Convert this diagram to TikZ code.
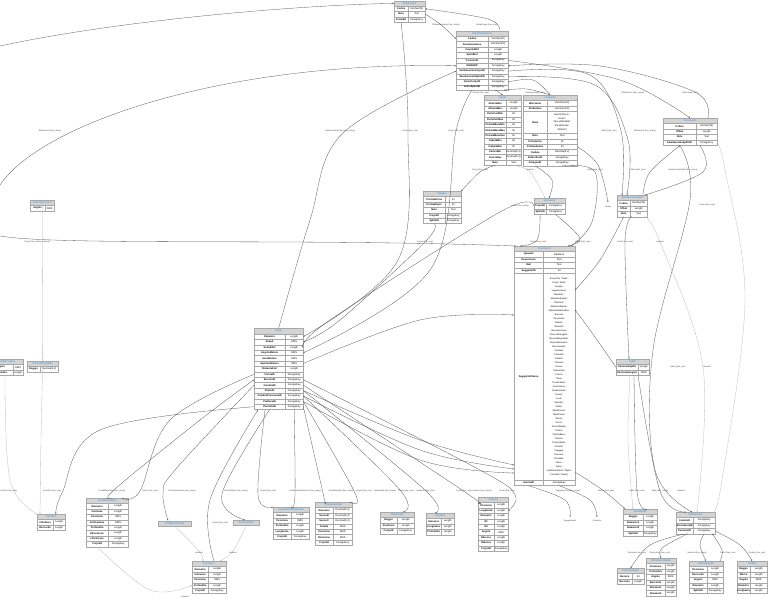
\documentclass[tikz,border=0pt]{standalone}
\usepackage{fontspec}
\setmainfont{Liberation Sans}
\usetikzlibrary{arrows.meta,calc}
\definecolor{hdrfill}{HTML}{D4D4D4}
\definecolor{hdrtext}{HTML}{2F8FDA}
\definecolor{cellborder}{HTML}{A8A8A8}
\definecolor{edgecol}{HTML}{555555}
\definecolor{extcol}{HTML}{BBBBBB}
\newcommand\rh{5.4}
\tikzset{
  x=1pt,y=-1pt,
  hdr/.style={draw=cellborder,fill=hdrfill,line width=0.3pt,inner sep=0pt,minimum height=5.4pt,
     font=\fontsize{2.6}{3}\selectfont,text=hdrtext,anchor=north west},
  cellL/.style={draw=cellborder,fill=white,line width=0.3pt,inner sep=0pt,
     font=\fontsize{2.5}{3}\selectfont\bfseries,anchor=north west},
  cellR/.style={draw=cellborder,fill=white,line width=0.3pt,inner sep=0pt,
     font=\fontsize{2.5}{3}\selectfont,anchor=north west},
  rel/.style={draw=edgecol,line width=0.3pt,-{Stealth[length=1.6pt,width=1.4pt]}},
  ext/.style={draw=extcol,line width=0.3pt,-{Stealth[length=1.6pt,width=1.4pt]}},
  lbl/.style={font=\fontsize{2.1}{2.5}\selectfont,text=black!75,inner sep=0.3pt},
  enumtxt/.style={align=center,inner sep=0pt},
}
\newcommand\dbhead[5]{%
  \pgfmathsetmacro\dbw{#3-#2}%
  \node[hdr,minimum width=\dbw pt] (#1) at (#2,#4) {#5};}
\newcommand\dbrow[8]{%
  \pgfmathsetmacro\dbwl{#3-#2}\pgfmathsetmacro\dbwr{#4-#3}%
  \node[cellL,minimum width=\dbwl pt,minimum height=#6pt] (#1) at (#2,#5) {#7};
  \node[cellR,minimum width=\dbwr pt,minimum height=#6pt] (#1r) at (#3,#5) {#8};}
\newcommand\dbt[7]{%
  \dbhead{#1}{#2}{#4}{#5}{#6}%
  \foreach [count=\i] \a/\b in {#7} {%
    \pgfmathsetmacro\yy{#5+\i*\rh}%
    \dbrow{#1-\i}{#2}{#3}{#4}{\yy}{\rh}{\a}{\b}}}
\newcommand\E[2][rel]{\draw[#1] plot[smooth,tension=0.6] coordinates {#2};}
\newcommand\LB[2]{\node[lbl] at (#1) {#2};}
\begin{document}
\begin{tikzpicture}
\useasboundingbox (0,0) rectangle (769,600);
\fill[white] (0,0) rectangle (769,600);

\coordinate (fL1) at (0,185);
\coordinate (fL2) at (0,46);
\coordinate (fL3) at (0,236);
\coordinate (fImg) at (608,202);
\coordinate (fSug) at (570,517);
\coordinate (fRis) at (597,517);

% ---------------- tables ----------------
\dbt{metal}{394}{408}{425}{0.5}{MetalCorpo}{Codice/Varchar(20),Note/Text,FormaID/ForeignKey}
\dbt{rif}{456}{488}{508}{30.5}{Riferimentazione}{Codice/Varchar(20),Denominazione/Varchar(200),CorpoIdRef/Length,SpIndRef/Length,TorrenteID/ForeignKey,MatRefID/ForeignKey,SemilavoratoCorpoID/ForeignKey,SemilavoratoSpIndID/ForeignKey,GrezzCorpoID/ForeignKey,GrezzSpIndID/ForeignKey}
\dbt{rot}{484}{506}{521}{95}{Rotolo}{AltezzaMin/Length,AltezzaMax/Length,PorteCartMin/Int,PorteCartMax/Int,PortataMassMin/Int,PortataMassMax/Int,PortataMassima/Int,CadutaMin/Int,CadutaMax/Int,CaricoMin/{Decimal(5,2)},CaricoMax/{Decimal(5,2)},Note/Text}
\dbhead{cat}{523}{577}{95}{Categoria}
\dbrow{cat-1}{523}{547}{577}{100.4}{5.4}{Marcatura}{Varchar(100)}
\dbrow{cat-2}{523}{547}{577}{105.8}{5.4}{Produttore}{Varchar(100)}
\dbrow{cat-3}{523}{547}{577}{111.2}{22}{Stato}{}
\node[enumtxt,font=\fontsize{2.4}{3.6}\selectfont] at (cat-3r) {Enum('Nuovo',\\'Usato',\\'Non utilizzabile',\\'Da eliminare',\\'Ritirato')};
\dbrow{cat-4}{523}{547}{577}{133.2}{5.4}{Note}{Text}
\dbrow{cat-5}{523}{547}{577}{138.6}{5.4}{PortataCon}{Int}
\dbrow{cat-6}{523}{547}{577}{144}{5.4}{PortataSenza}{Int}
\dbrow{cat-7}{523}{547}{577}{149.4}{5.4}{Caduta}{Decimal(5,2)}
\dbrow{cat-8}{523}{547}{577}{154.8}{5.4}{PotInoltroID}{ForeignKey}
\dbrow{cat-9}{523}{547}{577}{160.2}{5.4}{PotegnoID}{ForeignKey}

\dbt{serra}{663}{696}{717}{118}{SerraSpillo}{Codice/Varchar(20),Offset/Length,Note/Text,SemilavoratoSpilloID/ForeignKey}
\dbt{semsp}{617}{630}{647}{195}{SemilavoratoSpillo}{Codice/Varchar(20),Offset/Length,Note/Text}
\dbt{stampo}{423}{445}{461}{191}{Stampo}{PortataPrima/Int,PortataDopo/Int,Note/Text,CorpoID/ForeignKey,SpilloID/ForeignKey}
\dbt{acc}{534}{546}{565}{198}{Accessori}{CorpoID/ForeignKey,SpilloID/ForeignKey}

\dbhead{com}{514}{575}{246}{Commento}
\dbrow{com-1}{514}{543}{575}{251.4}{5.4}{Quando}{Datetime}
\dbrow{com-2}{514}{543}{575}{256.8}{5.4}{Descrizione}{Text}
\dbrow{com-3}{514}{543}{575}{262.2}{5.4}{Dati}{Text}
\dbrow{com-4}{514}{543}{575}{267.6}{5.4}{SuggeritoID}{Int}
\dbrow{com-5}{514}{543}{575}{273}{207}{SuggeritoClasse}{}
\node[enumtxt,font=\fontsize{2.2}{4.0}\selectfont] at (com-5r) {Enum('Filo','Dado',\\'Corpo','Spillo',\\'Gruppo',\\'LegatoreSerie',\\'Mandrino',\\'MandrinoRapido',\\'Riduttore',\\'RiduttoreRapido',\\'RiduttoreMultiOrdine',\\'Bussola',\\'Cuscinetto',\\'Bobina',\\'Morsetto',\\'BoccolaConica',\\'BoccolaFlangiata',\\'BoccolaRegolabile',\\'BoccolaSemplice',\\'BoccolaAsta',\\'Candela',\\'Chiavetta',\\'Coltello',\\'Colonna',\\'Cuneo',\\'Distanziale',\\'Forma',\\'Fresa',\\'FresaCodolo',\\'Guarnizione',\\'GuidaLineare',\\'Inserto',\\'Leva',\\'Maschio',\\'Molla',\\'MollaConica',\\'MollaPiana',\\'Morsa',\\'Perno',\\'PernoFilettato',\\'Piastra',\\'PiastraBase',\\'Pistone',\\'PistoneSpillo',\\'Pomello',\\'Puleggia',\\'Punzone',\\'Rondella',\\'Sfera',\\'Spina',\\'LoMoSoVaDaSo','Object',\\'Contratto','Paper')};
\dbrow{com-6}{514}{543}{575}{480}{5.4}{AutoreID}{ForeignKey}

\dbt{corpo}{254}{285}{303}{328.3}{Corpo}{Diametro/Length,SedeA/DMS,SedeARef/Length,AngoloMotore/DMS,SensMotore/DMS,AperturaMotore/DMS,DistanzaFori/Length,FormaID/ForeignKey,BoccheID/ForeignKey,CanaliniID/ForeignKey,PiattoID/ForeignKey,CanaliniPressioneID/ForeignKey,PiattoneID/ForeignKey,PozzettoID/ForeignKey}

\dbt{pozcor}{30}{45}{54}{200}{PozzettoCorona}{Angolo/DMS}
\dbt{pozpar}{27}{40}{58}{361}{PozzettoParallelo}{Raggio/{Decimal(5,2)}}
\dbt{pozinv}{-12}{13}{23}{359}{PozzettoInverso}{Angolo/DMS,Profondita/Length}

\dbt{poz}{37}{53}{65}{514}{Pozzetto}{Cilindrico/Length,Raccordo/Length}
\dbt{foromm}{86}{108}{128}{498}{ForoMillimetrato}{Diametro/Length,Interasse/Length,Posizione/DMS,Inclinazione/DMS,Profondita/Length,DPosizione/Length,LPosizione/Length,CorpoID/ForeignKey}
\dbhead{foromas}{158}{191}{520.5}{ForoMaschiatura}
\dbhead{forofil}{233}{259}{520}{ForoFilettato}
\dbt{forocie}{192}{208}{226}{561}{ForoCieco}{Diametro/Length,Interasse/Length,Posizione/DMS,Profondita/Length,CorpoID/ForeignKey}
\dbt{canris}{273}{291}{309}{507}{CanaleRiscaldamento}{Diametro/Length,Posizione/DMS,Profondita/Length,Lunghezza/Length,CorpoID/ForeignKey}
\dbt{canspi}{315}{333}{352}{502}{CanaleSpirale}{Diametro/{Decimal(5,2)},SensoB/{Decimal(5,2)},SensoC/{Decimal(5,2)},Caduta/DMS,Posizione/DMS,Rotazione/DMS,CorpoID/ForeignKey}
\dbt{dist}{380}{397}{414}{512}{Distanziale}{Raggio/Length,Posizione/Length,CorpoID/ForeignKey}
\dbt{canal}{426}{441}{454}{513}{Canalino}{Interasse/Length,Lunghezza/Length,Profondita/Length}
\dbt{camera}{478}{494}{508}{497}{Camera}{Posizione/Length,Lunghezza/Length,Diametro/Length,R1/Length,R2/Length,Angolo/DMS,Ribocco/Length,Ribocca/Length,CorpoID/ForeignKey}

\dbt{spillo}{616}{638}{649}{359}{Spillo}{StrozzatoSpillo/Length,StrozzatoAngolo/DMS}
\dbt{sede}{623}{643}{657}{509}{SedeSpillo}{Raggio/Length,Diametro1/Length,Diametro2/Length,SpilloID/ForeignKey}
\dbt{spform}{676}{693}{715}{512}{SpilloForma}{CodoloID/ForeignKey,StrozzaturaID/ForeignKey,PunzoneID/ForeignKey}
\dbt{punz}{617}{632}{644}{568}{PunzoneSpillo}{Numero/Int,Nocciolo/Length}
\dbt{stroz}{646}{665}{676}{558}{StrozzaturaSpillo}{Posizione/Length,Profondita/Length,Angolo/DMS,Raccordo/Length,Distanza1/Length,Distanza2/Length}
\dbt{sez}{689}{707}{723}{561}{SezioneSpillo}{Posizione/Length,Raccordo/Length,Angolo/DMS,Diametro/Length,SpilloID/ForeignKey}
\dbt{codolo}{737}{750}{767}{561}{Codolo}{Raggio/Length,Morso/Length,Angolo/DMS,Diametro/Length,Lunghezza/Length}

% ---------------- connectors ----------------
% top
\draw[rel] (fL1) .. controls (40,125) and (220,61) .. (rif-6.west);
\draw[rel] (fL2) .. controls (120,20) and (300,5) .. (metal.west);
\E{(metal-2r.east) (440,24) (rif-1.west)}
\E{(500,30.5) (488,19) (metal-1r.east)}
\E{(metal-3.south) (408,131) (398,260) (corpo-1r.east)}
\E{(rif-10.south) (456,131) (430,270) (corpo-4r.east)}
\E{(corpo.north) (310,220) (342,134) (rif-7.west)}
\E{(495,89.9) (rot.north)}
\E{(cat.north) (527,89) (504,90.2)}
\E{(rif-9r.east) (533,80) (cat.north)}
\E{(rif-5r.east) (620,80) (serra.north)}
\E{(708,118) (695,92) (600,66) (rif-6r.east)}
\E{(rif-7r.east) (590,75) (621,131) (622,195)}
\E{(rif-8r.east) (595,85) (628,140) (627,195)}
\E{(643,195) (650,172) (680,145.6)}
\E{(700,145.6) (703,172) (645,195)}
\E{(cat-6r.east) (598,165) (fImg)}
% stampo / accessori
\E{(rot-12.south) (480,172) (stampo.north east)}
\E[ext]{(rot-12r.south) (530,172) (545,198)}
\E{(cat-9.south) (552,180) (549,198)}
\E{(cat-9r.south) (595,172) (592,222) (571,246)}
\E{(stampo-5.south) (425,242) (340,320) (corpo-2r.east)}
\E{(acc-1.west) (500,212) (330,320) (corpo-3r.east)}
\E{(acc-2.south) (537,240) (520,246)}
\E{(acc-2r.south) (580,238) (568,246)}
\draw[rel] (fL3) .. controls (60,246) and (300,238) .. (516,246);
% corpo -> commento
\E{(corpo-6r.east) (420,320) (514,315)}
\E{(corpo-11r.east) (420,440) (514,465)}
\E{(corpo-12r.east) (420,450) (514,469)}
\E{(corpo-13r.east) (420,460) (514,473)}
\E{(semsp-3.south) (600,260) (575,290)}
\E{(spillo-1.west) (590,330) (575,310)}
% spillo region
\E{(632,216.6) (625,242) (629,359)}
\E[ext]{(645,216.6) (660,242) (703,367) (697,512)}
\E{(serra-4.south) (690,200) (653,350) (655,470) (692,512)}
\E[ext]{(serra-4r.east) (725,170) (745,300) (722,480) (713,512)}
\E[ext]{(630,375.2) (628,440) (633,509)}
\E{(634,375.2) (637,491) (647,509)}
\E{(638,375.2) (660,491) (686,512)}
\E{(575,472) (604,491) (625,509)}
\E{(com-6.south) (565,500) (fSug)}
\E{(com-6r.south) (590,500) (fRis)}
\E{(spform-3.south) (650,545) (punz.north)}
\E{(688,533.6) (662,548) (stroz.north)}
\E{(spform-3r.south) (700,545) (706,561)}
\E{(720,561) (722,550) (712,533.6)}
\E{(spform-3r.east) (740,545) (codolo.north)}
% left
\E[ext]{(pozcor.south) (pozpar.north)}
\E[ext]{(pozpar.south) (41,440) (40,514)}
\E[ext]{(5,375.2) (10,480) (37,514)}
\E{(corpo-14.west) (100,430) (62,493) (56,514)}
% corpo -> bottom
\E{(corpo-8.west) (170,420) (140,491) (122,498)}
\E{(112,498) (115,489) (200,420) (corpo-9.west)}
\E{(corpo-10.west) (175,470) (163,493) (168,520.5)}
\E[ext]{(foromas.south) (199,551) (203,561)}
\E[ext]{(forofil.south) (233,551) (220,561)}
\E{(corpo-14.south) (222,494) (245,520)}
\E{(214,561) (210,500) (258,409.9)}
\E[ext]{(foromm-8.south) (150,590) (forocie-4.west)}
\E{(265,409.9) (258,495) (273,507)}
\E{(corpo-14r.south) (295,495) (canris.north)}
\E{(corpo-14r.east) (323,493) (325,502)}
\E{(corpo-13r.east) (355,493) (350,502)}
\E{(corpo-12r.east) (400,490) (403,512)}
\E{(corpo-11r.east) (425,490) (435,513)}
\E{(corpo-10r.east) (462,490) (478,503)}
\E{(corpo-9r.east) (480,470) (515,495) (camera-2r.east)}

% ---------------- labels ----------------
\LB{50,131}{Riferimento (has\_many)}
\LB{446,25}{Riferimentazione (has\_many)}
\LB{487,25}{MetalCorpo (has\_one)}
\LB{410,131}{Corpo (has\_one)}
\LB{456,131}{Corpo (has\_one)}
\LB{340,131}{SemilavoratoCorpo (has\_many)}
\LB{481,93}{Rotolo (has\_one)}
\LB{535,92.5}{Categoria (has\_one)}
\LB{633,93}{Riferimento (has\_many)}
\LB{690,93}{Spillo (has\_one)}
\LB{609,131}{Spillo (has\_one)}
\LB{645,131}{Riferimenti (has\_many)}
\LB{638,170}{Spillo (has\_one)}
\LB{683,170}{SemilavoratoSpillo (has\_many)}
\node[lbl] at (608,206.5) {Image};
\LB{480,170}{Corpo (has\_one)}
\LB{530,170}{estende}
\LB{595,170}{Spillo (has\_one)}
\LB{520,206}{Corpo (has\_many)}
\LB{37,242}{Corpo (has\_many) estende}
\LB{425,242}{Corpo (has\_one)}
\LB{538,242}{Corpo (has\_one)}
\LB{583,242}{Spillo (has\_one)}
\LB{625,242}{Corpo (has\_one)}
\LB{660,242}{estende}
\LB{707,205}{Corpo (has\_one)}
\LB{678,367}{Spillo (has\_one)}
\LB{707,367}{estende}
\LB{8,491}{Pozzetto (has\_one)}
\LB{52,491}{Pozzetto (has\_one)}
\LB{112,491}{ForoMillimetrato (has\_many)}
\LB{150,491}{Corpo (has\_one)}
\LB{182,491}{ForoMaschiatura (has\_many)}
\LB{220,523}{Corpo (has\_one)}
\LB{236,491}{ForoFilettato (has\_many)}
\LB{268,491}{Corpo (has\_one)}
\LB{305,491}{CanaleRiscaldamento (has\_many)}
\LB{341,491}{CanaleSpirale (has\_many)}
\LB{364,491}{Corpo (has\_one)}
\LB{385,491}{Distanziale (has\_many)}
\LB{406,491}{Corpo (has\_one)}
\LB{425.5,491}{Canalino (has\_one)}
\LB{464,491}{Corpo (has\_one)}
\LB{482,491}{Camera (has\_many)}
\LB{507,491}{Corpo (has\_one)}
\LB{199,553}{estende}
\LB{233,553}{estende}
\LB{185,597}{estende}
\LB{568,491}{Suggerimento (has\_many)}
\LB{606,491}{Azione (has\_one)}
\node[lbl] at (570,521) {Suggerimenti};
\node[lbl] at (597,521) {Risposte};
\LB{637,491}{Spillo (has\_one)}
\LB{660,491}{Spillo (has\_many)}
\LB{681,491}{estende}
\LB{637,553}{Punzone (has\_one)}
\LB{660,553}{Strozzatura (has\_one)}
\LB{697,553}{Sezione (has\_many)}
\LB{728,553}{Spillo (has\_one)}
\LB{757,553}{Codolo (has\_one)}

\end{tikzpicture}
\end{document}
